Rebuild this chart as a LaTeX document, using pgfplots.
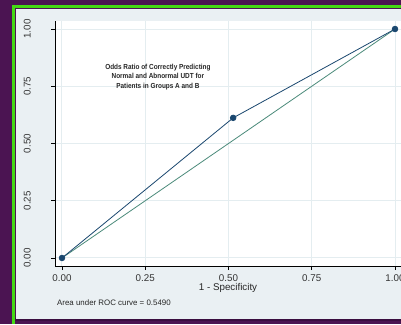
\documentclass[border=0pt]{standalone}
\usepackage{fontspec}
\setmainfont{Liberation Sans}
\newfontfamily\narrowbold[FakeStretch=0.88]{Liberation Sans Bold}
\usepackage{pgfplots}
\pgfplotsset{compat=1.18}
\definecolor{bgpurple}{HTML}{4B1452}
\definecolor{darkpurple}{HTML}{3A0E40}
\definecolor{framegreen}{HTML}{44D814}
\definecolor{panel}{HTML}{EAF0F3}
\definecolor{gridc}{HTML}{E4EDF0}
\definecolor{navy}{HTML}{1A476F}
\definecolor{teal}{HTML}{4A8A7A}
\begin{document}
\begin{tikzpicture}[x=1pt,y=1pt]
\useasboundingbox (0,0) rectangle (401,324);
\clip (0,0) rectangle (401,324);
\fill[bgpurple] (0,0) rectangle (401,324);
\fill[framegreen] (12,0) rectangle (15,319);
\fill[framegreen] (12,316) rectangle (405,319);
\fill[darkpurple] (15,3) rectangle (405,6);
\fill[panel] (16,5) rectangle (405,315);
\begin{axis}[
  at={(55pt,58pt)}, anchor=south west,
  scale only axis, width=350pt, height=245pt,
  xmin=-0.021, xmax=1.030, ymin=-0.035, ymax=1.035,
  axis x line*=bottom, axis y line*=left,
  axis line style={black, line width=0.8pt, -},
  axis background/.style={fill=white},
  xtick={0,0.25,0.5,0.75,1}, ytick={0,0.25,0.5,0.75,1},
  xticklabels={0.00,0.25,0.50,0.75,1.00},
  yticklabels={0.00,0.25,0.50,0.75,1.00},
  tick align=outside, major tick length=4pt,
  tick style={black, line width=0.6pt},
  grid=major, major grid style={gridc, line width=1pt},
  /pgf/number format/assume math mode=true,
  ticklabel style={font=\fontsize{9.8}{11}\selectfont, text=black!80},
  yticklabel style={rotate=90, anchor=south, inner sep=0pt, yshift=20pt},
  xticklabel style={yshift=-1pt},
  clip=false,
]
\addplot[teal, line width=0.8pt, no markers] coordinates {(0,0) (1,1)};
\addplot[navy, line width=0.8pt, mark=*, mark size=2.8pt, mark options={fill=navy, draw=navy}] coordinates {(0,0) (0.514,0.612) (1,1)};
\node[align=center, font=\narrowbold\fontsize{7.3}{9.5}\selectfont, text=black!85] at (axis cs:0.288,0.79) {Odds Ratio of Correctly Predicting\\Normal and Abnormal UDT for\\Patients in Groups A and B};
\end{axis}
\node[font=\fontsize{9.8}{11}\selectfont, text=black!85] at (228,36) {1 - Specificity};
\node[anchor=west, inner sep=0pt, font=\fontsize{7.9}{9}\selectfont, text=black!85] at (57,21) {Area under ROC curve = 0.5490};
\end{tikzpicture}
\end{document}
